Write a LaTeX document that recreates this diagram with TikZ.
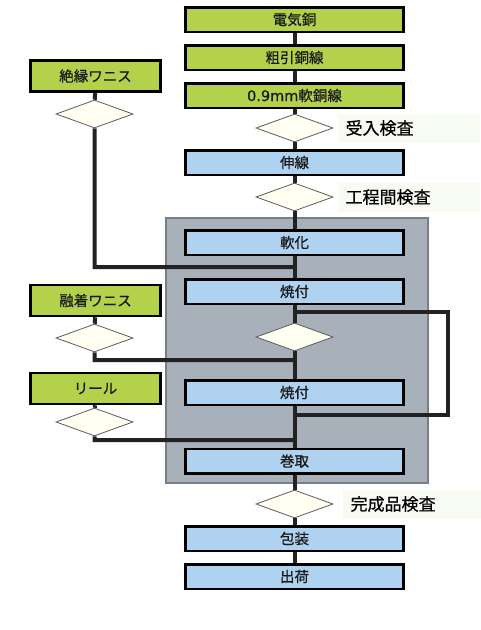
\documentclass[tikz,border=0pt]{standalone}
\usepackage{fontspec}
\setmainfont{Noto Sans CJK JP}[FakeBold=0.6]
\newfontfamily\numfont{DejaVu Sans}[FakeBold=0.4]
\usetikzlibrary{positioning,shapes.geometric,backgrounds}
\definecolor{boxgreen}{RGB}{179,209,75}
\definecolor{boxblue}{RGB}{174,210,240}
\definecolor{ovengray}{RGB}{168,176,186}
\definecolor{ovenedge}{RGB}{120,126,134}
\definecolor{checkfill}{RGB}{255,255,242}
\definecolor{checkedge}{RGB}{90,90,90}
\definecolor{labelfill}{RGB}{247,251,242}
\definecolor{flowline}{RGB}{34,34,34}

\begin{document}
\begin{tikzpicture}[x=1pt,y=-1pt,
	main_box/.style={draw, line width=2.5pt, minimum width=218pt, minimum height=24.5pt, inner sep=0pt, text=black!90, font=\fontsize{14.5}{16}\selectfont},
	green_box/.style={main_box, fill=boxgreen},
	blue_box/.style={main_box, fill=boxblue},
	side_box/.style={green_box, minimum width=130pt, minimum height=31pt},
	check_node/.style={diamond, draw=checkedge, line width=0.8pt, fill=checkfill, minimum width=77pt, minimum height=28pt, inner sep=0pt},
	check_label/.style={fill=labelfill, text width=126pt, inner xsep=8pt, minimum height=29pt, align=left, font=\fontsize{17}{19}\selectfont},
	flow_line/.style={draw=flowline, line width=4pt},
	oven_style/.style={draw=ovenedge, line width=1.2pt, fill=ovengray, minimum width=262pt, minimum height=265pt}]
	\useasboundingbox (0,0) rectangle (480,630);
	% main line
	\node [green_box](copper_node) at (294.5,19.5) {電気銅};
	\node [green_box](rough_node) at (294.5,57.5) {粗引銅線};
	\node [green_box](soft_wire_node) at (294.5,95.5) {{\numfont 0.9mm}軟銅線};
	\node [check_node](check_in_node) at (294.5,128) {};
	\node [blue_box](drawing_node) at (294.5,162.5) {伸線};
	\node [check_node](check_proc_node) at (294.5,197) {};
	\node [blue_box](soften_node) at (294.5,242.5) {軟化};
	\node [blue_box](bake_a_node) at (294.5,291.5) {焼付};
	\node [check_node](check_mid_node) at (294.5,337) {};
	\node [blue_box](bake_b_node) at (294.5,392.5) {焼付};
	\node [blue_box](winding_node) at (294.5,461) {巻取};
	\node [check_node](check_final_node) at (294.5,504) {};
	\node [blue_box](packing_node) at (294.5,538.5) {包装};
	\node [blue_box](shipping_node) at (294.5,576.5) {出荷};
	% inspection labels
	\node [check_label, right=4pt of check_in_node](check_in_label) {受入検査};
	\node [check_label, right=4pt of check_proc_node](check_proc_label) {工程間検査};
	\node [check_label, right=9pt of check_final_node](check_final_label) {完成品検査};
	% materials
	\node [side_box](insul_node) at (95.5,76) {絶縁ワニス};
	\node [check_node](insul_check_node) at (94.5,114) {};
	\node [side_box](fusion_node) at (95.5,300.5) {融着ワニス};
	\node [check_node](fusion_check_node) at (94.5,338) {};
	\node [side_box](reel_node) at (95.5,388.5) {リール};
	\node [check_node](reel_check_node) at (94.5,422) {};
	\coordinate (insul_join) at (294.5,267);
	\coordinate (fusion_join) at (294.5,360);
	\coordinate (reel_join) at (294.5,440);
	\coordinate (loop_top) at (294.5,312);
	\coordinate (loop_side) at (448,312);
	\coordinate (loop_bot) at (294.5,415);
	\begin{scope}[on background layer]
		\node [oven_style](oven_box) at (297,350.5) {};
		\foreach \a/\b in {copper_node/rough_node, rough_node/soft_wire_node, soft_wire_node/check_in_node, check_in_node/drawing_node, drawing_node/check_proc_node, check_proc_node/soften_node, soften_node/bake_a_node, bake_a_node/check_mid_node, check_mid_node/bake_b_node, bake_b_node/winding_node, winding_node/check_final_node, check_final_node/packing_node, packing_node/shipping_node}
			\draw [flow_line] (\a) -- (\b);
		\draw [flow_line] (insul_node) -- (insul_check_node) |- (insul_join);
		\draw [flow_line] (fusion_node) -- (fusion_check_node) |- (fusion_join);
		\draw [flow_line] (reel_node) -- (reel_check_node) |- (reel_join);
		\draw [flow_line] (loop_top) -- (loop_side) |- (loop_bot);
	\end{scope}
\end{tikzpicture}
\end{document}
